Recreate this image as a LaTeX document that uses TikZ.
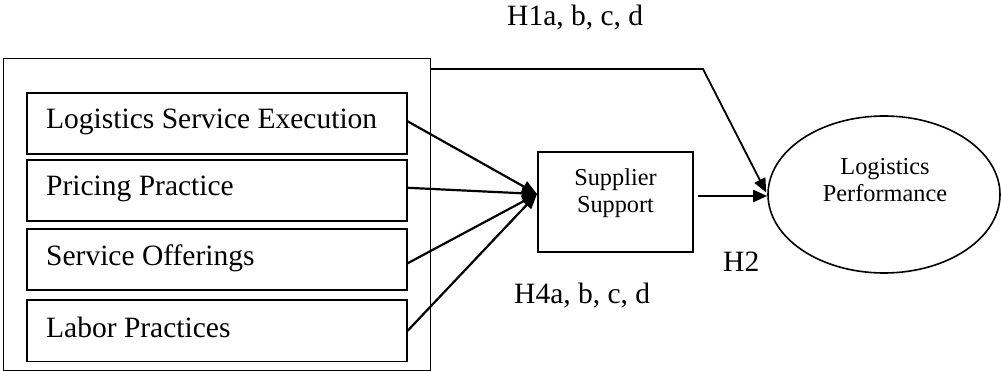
\documentclass[tikz,border=0pt]{standalone}
\usepackage{fontspec}
\setmainfont{Liberation Serif}
\usetikzlibrary{shapes.geometric,arrows.meta,calc}
\begin{document}
\begin{tikzpicture}[x=1pt,y=-1pt,
  bigtxt/.style={font=\fontsize{29.5}{34}\selectfont, inner sep=0pt, anchor=base west},
  smalltxt/.style={font=\fontsize{24.3}{27.5}\selectfont, inner sep=0pt, align=center},
  itembox/.style={draw, line width=1.6pt, minimum width=380pt, minimum height=61pt, inner sep=0pt, anchor=north west},
  arr/.style={line width=2.2pt, -{Triangle[length=15pt,width=12pt]}},
  link/.style={line width=1.8pt, -{Triangle[length=14pt,width=12pt]}}]
\useasboundingbox (0,0) rectangle (1001,371);
% outer box
\node[draw, line width=1.2pt, minimum width=427pt, minimum height=312pt, inner sep=0pt, anchor=north west] (outer) at (3,58) {};
% inner boxes
\node[itembox] (b1) at (26,92) {};
\node[itembox] (b2) at (26,159.5) {};
\node[itembox] (b3) at (26,228) {};
\node[itembox] (b4) at (26,299.5) {};
\node[bigtxt] (t1) at (46,129) {Logistics Service Execution};
\node[bigtxt] (t2) at (46,196) {Pricing Practice};
\node[bigtxt] (t3) at (46,266) {Service Offerings};
\node[bigtxt] (t4) at (46,337) {Labor Practices};
% supplier support
\node[draw, line width=1.6pt, minimum width=155pt, minimum height=100pt, inner sep=0pt] (ss) at (615.5,202) {};
\node[smalltxt] (sst) at (615.5,193) {Supplier\\Support};
% logistics performance
\node[draw, ellipse, line width=1.6pt, minimum width=232pt, minimum height=157pt, inner sep=0pt] (lp) at (884,194.5) {};
\node[smalltxt] (lpt) at (885,180) {Logistics\\Performance};
% convergence point
\coordinate (tip) at (537,194);
\draw[arr] ($(b1.east)+(0,-2)$) -- (tip);
\draw[arr] ($(b2.east)+(0,-3)$) -- (tip);
\draw[arr] ($(b3.east)+(0,4)$) -- (tip);
\draw[arr] (b4.east) -- (tip);
% supplier to performance
\coordinate (sso) at ($(ss.east)+(4,-6)$);
\draw[link] (sso) -- (sso -| lp.west);
% H1 path
\coordinate (h1s) at ($(outer.north east)+(0,11)$);
\coordinate (h1k) at (703,69);
\draw[link] (h1s) -- (h1k) -- ($(lp.west)+(-1,-2)$);
% labels
\node[bigtxt] (h1) at (507,26) {H1a, b, c, d};
\node[bigtxt] (h4) at (514,303) {H4a, b, c, d};
\node[bigtxt] (h2) at (723,272) {H2};
\end{tikzpicture}
\end{document}
